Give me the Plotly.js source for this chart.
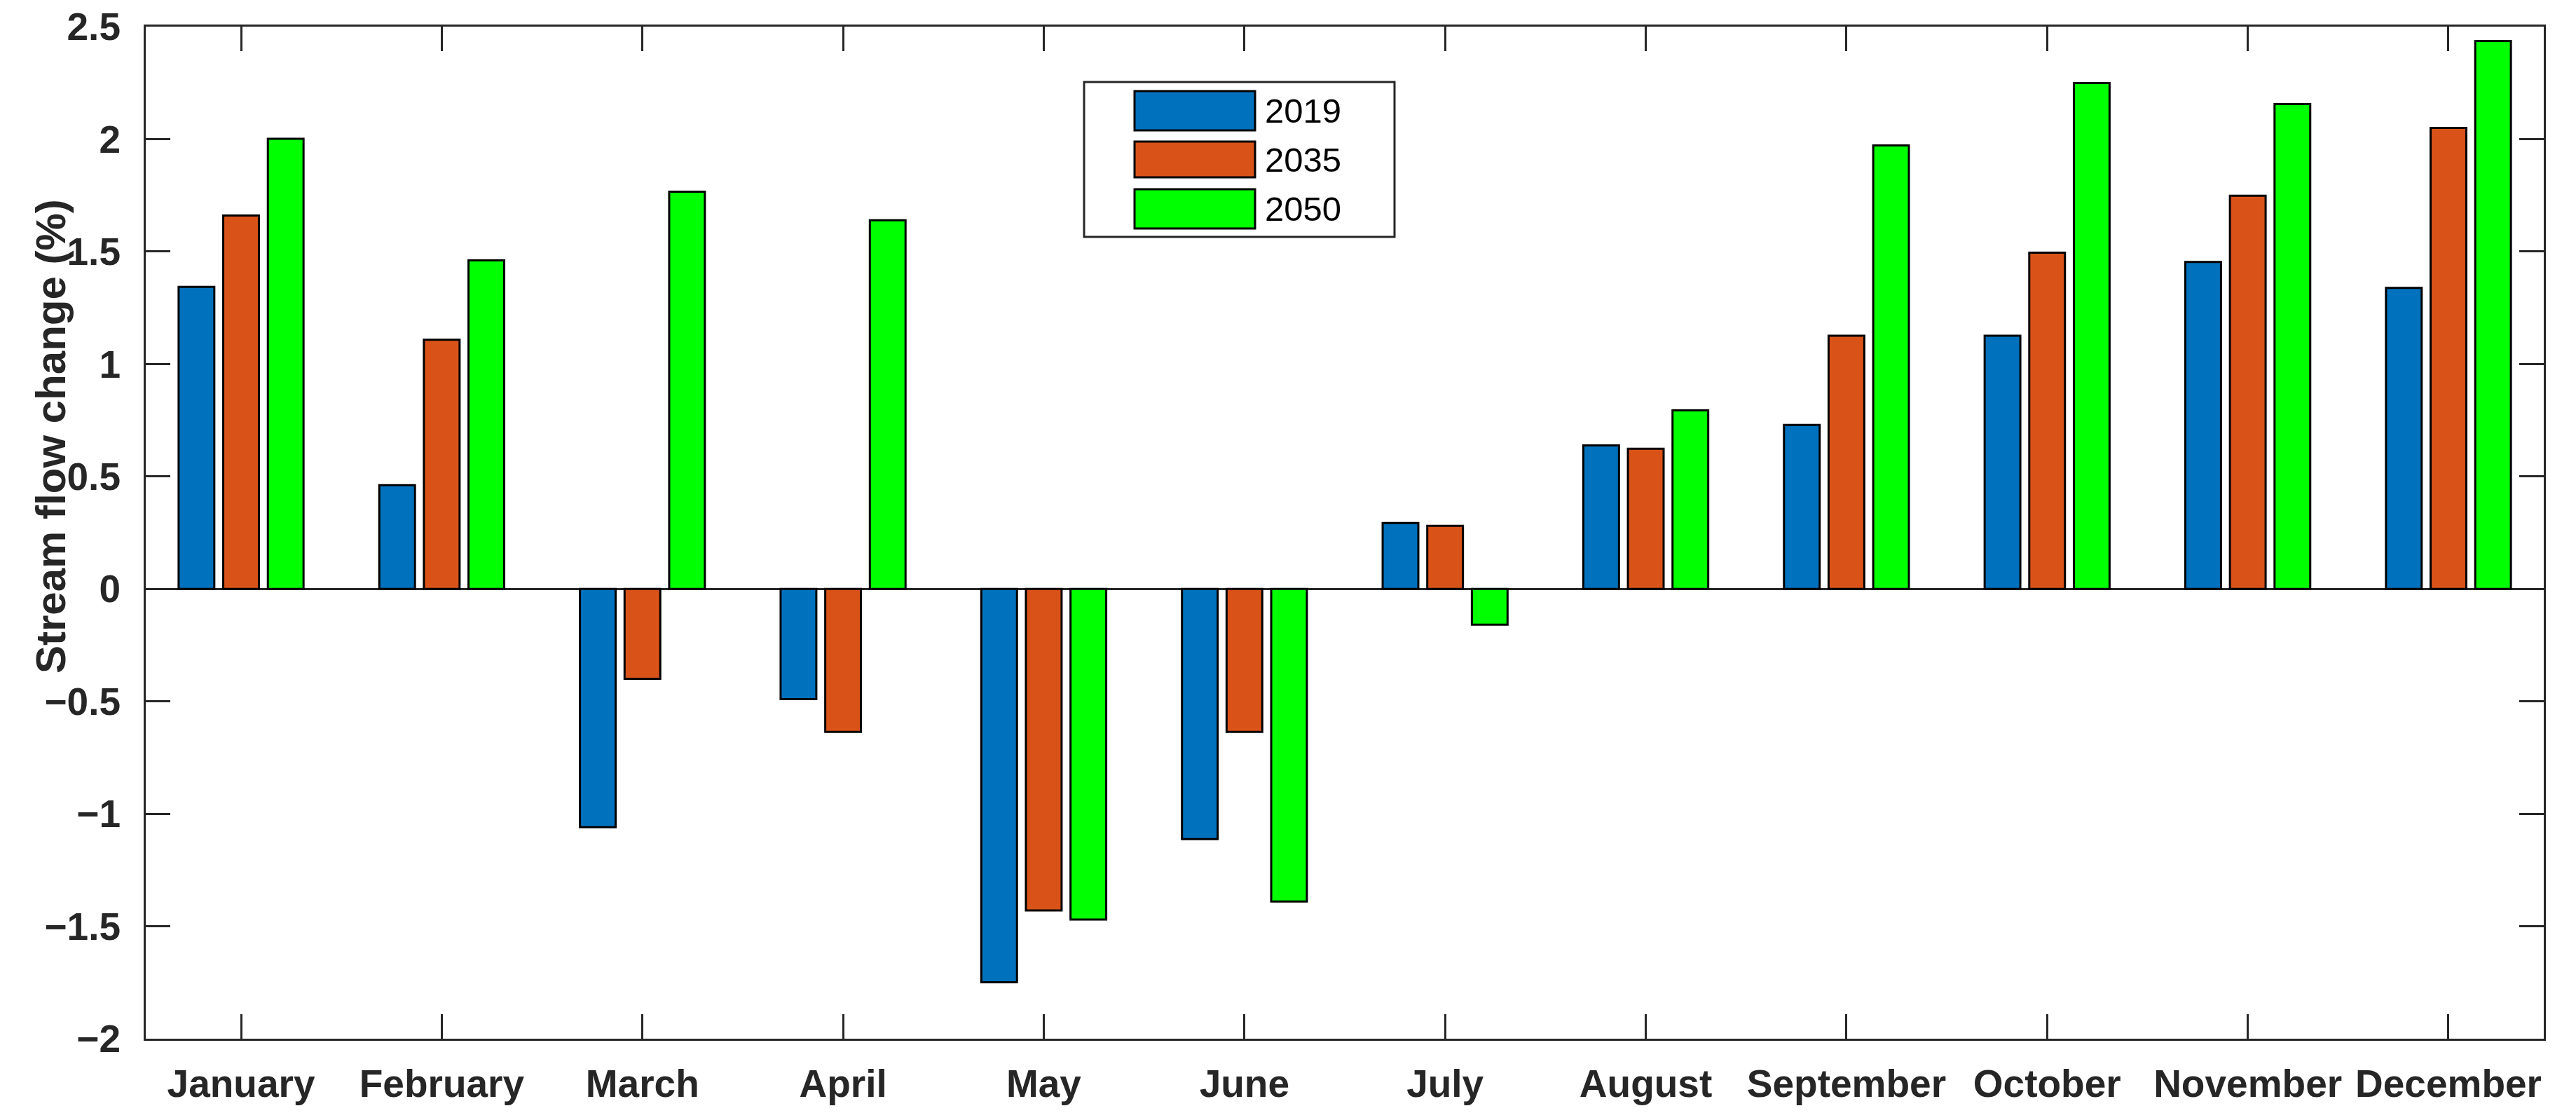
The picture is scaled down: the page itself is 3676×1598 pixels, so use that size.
<!DOCTYPE html>
<html>
<head>
<meta charset="utf-8">
<script src="https://cdn.plot.ly/plotly-3.0.1.min.js"></script>
<style>html,body{margin:0;padding:0;background:#fff;}#chart{width:3676px;height:1598px;}</style>
</head>
<body>
<div id="chart"></div>
<script>
// ---- data ----
const months = ["January","February","March","April","May","June","July","August","September","October","November","December"];
const seriesNames = ["2019","2035","2050"];
const v2019 = [1.343, 0.461, -1.06, -0.49, -1.749, -1.113, 0.293, 0.638, 0.729, 1.126, 1.454, 1.338];
const v2035 = [1.66, 1.108, -0.40, -0.636, -1.43, -0.636, 0.28, 0.623, 1.126, 1.495, 1.748, 2.05];
const v2050 = [2.001, 1.461, 1.766, 1.639, -1.47, -1.39, -0.159, 0.794, 1.972, 2.249, 2.156, 2.436];
const yTickVals = [-2, -1.5, -1, -0.5, 0, 0.5, 1, 1.5, 2, 2.5];

// ---- styles ----
const colors = ["#0072BD", "#D95319", "#00FF00"];
const W = 3676, H = 1598;
const M = {l: 208, r: 46, t: 38, b: 116};
const PW = W - M.l - M.r, PH = H - M.t - M.b;
const axisColor = "#262626";
const fam = "Liberation Sans, Arial, Helvetica, sans-serif";
const px2x = X => (X - M.l) / PW;
const px2y = Y => (H - M.b - Y) / PH;

const allVals = [v2019, v2035, v2050];
const traces = allVals.map((vals, i) => ({
  type: "bar",
  x: months,
  y: vals,
  name: seriesNames[i],
  marker: {color: colors[i], line: {color: "#000000", width: 3}},
  showlegend: false,
  hoverinfo: "x+y+name"
}));

// custom legend (MATLAB-style wide swatches)
const legendBox = {x0: 1547, x1: 1990, y0: 117, y1: 338};
const swatchX = [1619, 1791];
const swatchY = [[130, 186], [202, 253], [270, 326]];
const shapes = [{
  type: "rect", xref: "paper", yref: "paper",
  x0: px2x(legendBox.x0), x1: px2x(legendBox.x1),
  y0: px2y(legendBox.y1), y1: px2y(legendBox.y0),
  line: {color: axisColor, width: 3}, fillcolor: "#ffffff", layer: "above"
}];
const annotations = [];
seriesNames.forEach((n, i) => {
  shapes.push({
    type: "rect", xref: "paper", yref: "paper",
    x0: px2x(swatchX[0]), x1: px2x(swatchX[1]),
    y0: px2y(swatchY[i][1]), y1: px2y(swatchY[i][0]),
    line: {color: "#000000", width: 3}, fillcolor: colors[i], layer: "above"
  });
  annotations.push({
    xref: "paper", yref: "paper",
    x: px2x(1803), y: px2y((swatchY[i][0] + swatchY[i][1]) / 2),
    xanchor: "left", yanchor: "middle", showarrow: false,
    text: n, font: {family: fam, size: 49, color: "#000000"}
  });
});
annotations.push({
  xref: "paper", yref: "paper", x: 0, y: px2y(623), xshift: -136,
  xanchor: "center", yanchor: "middle", showarrow: false, textangle: -90,
  text: "Stream flow change (%)",
  font: {family: fam, size: 60, color: axisColor, weight: "bold"}
});

const tickFont = {family: fam, size: 55, color: axisColor, weight: "bold"};
const layout = {
  width: W, height: H,
  margin: {l: M.l, r: M.r, t: M.t, b: M.b, pad: 0},
  paper_bgcolor: "#ffffff", plot_bgcolor: "#ffffff",
  barmode: "group", bargap: 0.333, bargroupgap: 0.2,
  showlegend: false,
  xaxis: {
    type: "category", range: [-0.475, 11.475],
    showline: true, mirror: "ticks", linecolor: axisColor, linewidth: 3,
    ticks: "inside", ticklen: 35, tickwidth: 3, tickcolor: axisColor,
    tickfont: tickFont, showgrid: false, zeroline: false,
    ticklabelstandoff: 14
  },
  yaxis: {
    range: [-2, 2.5], tickvals: yTickVals,
    showline: true, mirror: "ticks", linecolor: axisColor, linewidth: 3,
    ticks: "inside", ticklen: 35, tickwidth: 3, tickcolor: axisColor,
    tickfont: tickFont, showgrid: false,
    zeroline: true, zerolinecolor: axisColor, zerolinewidth: 3,
    ticklabelstandoff: 22
  },
  shapes: shapes,
  annotations: annotations
};

Plotly.newPlot("chart", traces, layout, {staticPlot: true, displayModeBar: false});
</script>
</body>
</html>
